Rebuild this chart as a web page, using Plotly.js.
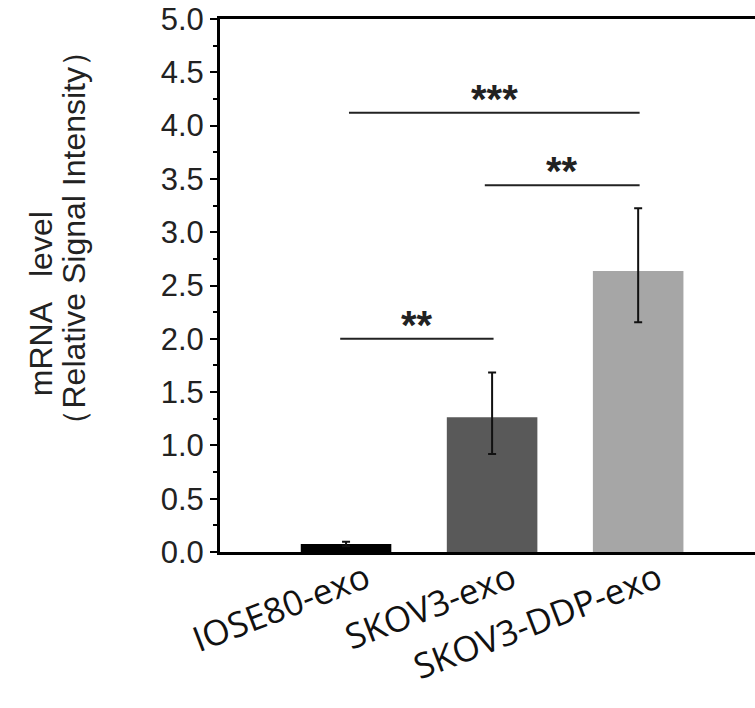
<!DOCTYPE html>
<html>
<head>
<meta charset="utf-8">
<script src="https://cdn.plot.ly/plotly-3.0.1.min.js"></script>
<style>html,body{margin:0;padding:0;background:#fff;}#chart{width:755px;height:708px;}</style>
</head>
<body>
<div id="chart"></div>
<script>
// ---- data ----
const categories = ["IOSE80-exo", "SKOV3-exo", "SKOV3-DDP-exo"];
const means = [0.075, 1.265, 2.635];
const errUp = [0.02, 0.42, 0.59];
const errDown = [0.02, 0.345, 0.48];
const barColors = ["#000000", "#595959", "#a6a6a6"];
const yTickVals = [0, 0.5, 1, 1.5, 2, 2.5, 3, 3.5, 4, 4.5, 5];
const yTickText = ["0.0", "0.5", "1.0", "1.5", "2.0", "2.5", "3.0", "3.5", "4.0", "4.5", "5.0"];
const yTitleLines = ["mRNA   level", "（Relative Signal Intensity）"];
// significance comparisons: [from index, to index], bracket height, label
const sigPairs = [[0, 1], [1, 2], [0, 2]];
const sigHeights = [2.0, 3.44, 4.12];
const sigLabels = ["**", "**", "***"];

const trace = {
  type: "bar",
  x: categories,
  y: means,
  width: 0.62,
  marker: {color: barColors, line: {width: 0}},
  error_y: {
    type: "data", symmetric: false,
    array: errUp, arrayminus: errDown,
    color: "#111", thickness: 2, width: 4
  },
  hoverinfo: "none"
};

const shapes = [];
const annotations = [];
const startInset = [-0.04, -0.05, 0.02];
sigPairs.forEach((p, i) => {
  const x0 = p[0] + startInset[i];
  const x1 = p[1] + 0.01;
  shapes.push({type: "line", xref: "x", yref: "y", x0: x0, x1: x1,
    y0: sigHeights[i], y1: sigHeights[i], line: {color: "#222", width: 2}});
  annotations.push({xref: "x", yref: "y", x: (x0 + x1) / 2, y: sigHeights[i],
    text: "<b>" + sigLabels[i] + "</b>", showarrow: false, yanchor: "bottom", yshift: -10,
    font: {family: "Liberation Sans, Arial", size: 40, color: "#222"}});
});

// y-axis title as two rotated lines
const titleFont = {family: "Liberation Sans, Arial", size: 32, color: "#222"};
annotations.push({xref: "paper", yref: "paper", x: 0, xshift: -179, y: 0.465,
  text: yTitleLines[0], textangle: -90, showarrow: false, xanchor: "center", yanchor: "middle", font: titleFont});
annotations.push({xref: "paper", yref: "paper", x: 0, xshift: -146, y: 0.59,
  text: yTitleLines[1], textangle: -90, showarrow: false, xanchor: "center", yanchor: "middle", font: titleFont});

const layout = {
  width: 755, height: 708,
  margin: {l: 220, r: 0, t: 19, b: 156},
  paper_bgcolor: "#fff", plot_bgcolor: "#fff",
  showlegend: false,
  xaxis: {
    type: "category",
    range: [-0.863, 2.8],
    showline: true, linecolor: "#000", linewidth: 3, mirror: true,
    ticks: "", tickangle: -21,
    ticklabelshift: 20, ticklabelstandoff: -10,
    tickfont: {family: "Open Sans", size: 35, color: "#111"},
    showgrid: false, zeroline: false, fixedrange: true
  },
  yaxis: {
    range: [0, 5],
    tickvals: yTickVals, ticktext: yTickText,
    showline: true, linecolor: "#000", linewidth: 3, mirror: false,
    ticks: "outside", ticklen: 7, tickwidth: 2, tickcolor: "#000",
    minor: {dtick: 0.25, ticks: "outside", ticklen: 4, tickwidth: 2, tickcolor: "#000"},
    tickfont: {family: "Liberation Sans, Arial", size: 31, color: "#222"},
    showgrid: false, zeroline: false, fixedrange: true
  },
  shapes: shapes,
  annotations: annotations
};

Plotly.newPlot("chart", [trace], layout, {staticPlot: true, displayModeBar: false});
</script>
</body>
</html>
